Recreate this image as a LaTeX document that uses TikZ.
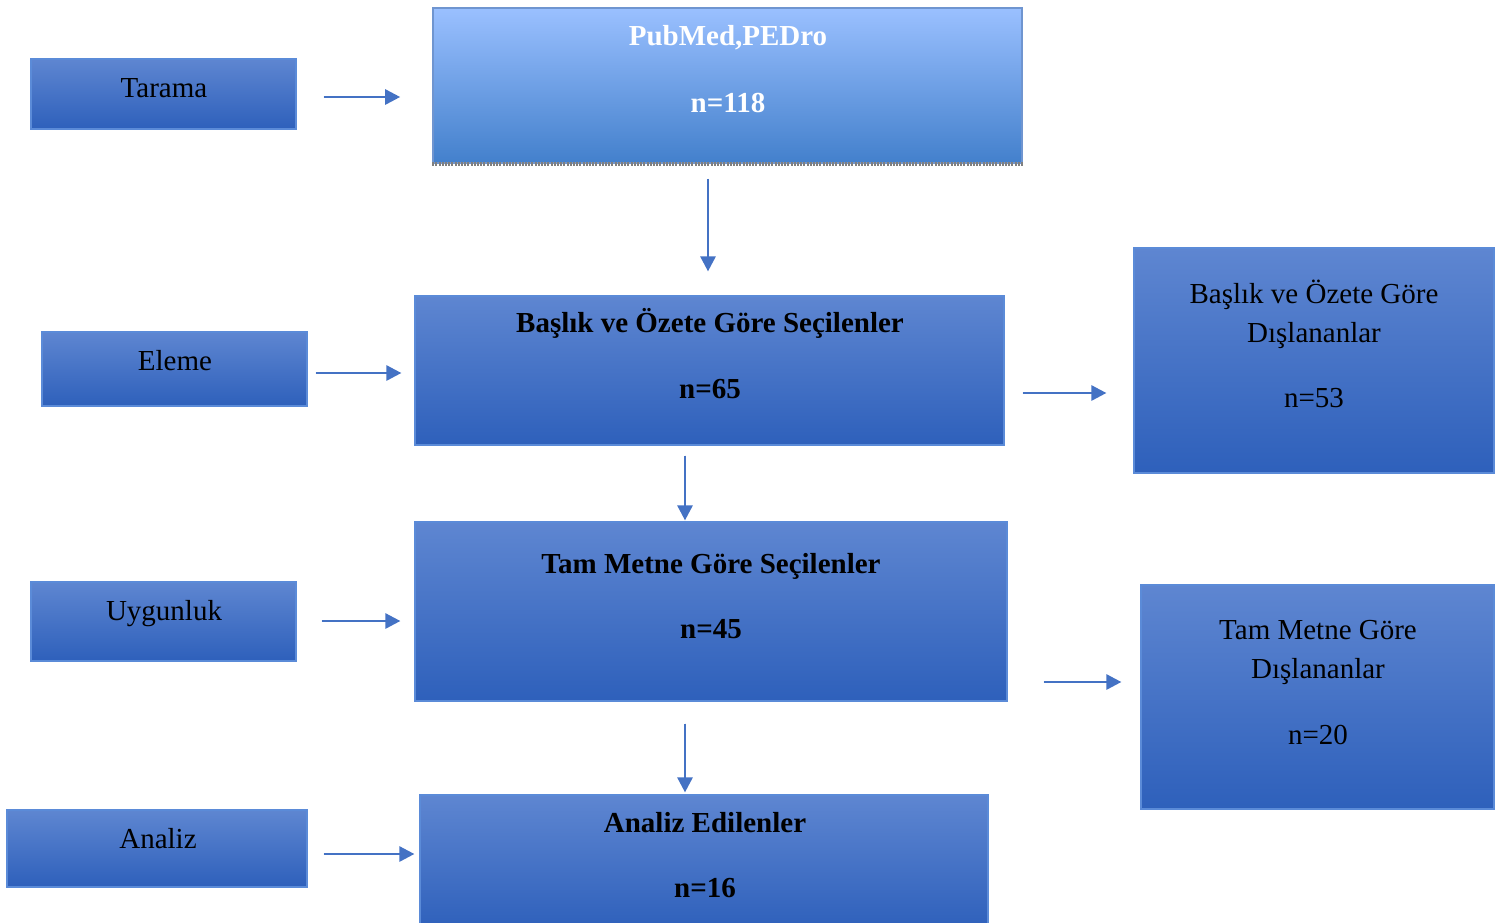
\documentclass[tikz,border=0pt]{standalone}
\usepackage{fontspec}
\setmainfont{Liberation Serif}
\usetikzlibrary{arrows.meta,fit}
\definecolor{arrowblue}{HTML}{4472C4}
\definecolor{boxtop}{HTML}{5E86D1}
\definecolor{boxbot}{HTML}{2E60BB}
\definecolor{boxedge}{HTML}{5B8BD8}
\definecolor{headtop}{HTML}{9AC0FF}
\definecolor{headbot}{HTML}{4380CC}
\definecolor{headedge}{HTML}{6F95D0}
\begin{document}
\begin{tikzpicture}[x=0.5pt,y=-0.5pt,
  box/.style={draw=boxedge, line width=0.6pt, top color=boxtop, bottom color=boxbot, inner sep=0pt, rectangle},
  headbox/.style={draw=headedge, line width=0.8pt, top color=headtop, bottom color=headbot, inner sep=0pt, rectangle},
  lbl/.style={font=\fontsize{14.5}{17}\selectfont, anchor=base, inner sep=0pt, text=black},
  blbl/.style={lbl, font=\fontsize{14.5}{17}\selectfont\bfseries},
  arr/.style={draw=arrowblue, line width=1.35pt, -{Triangle[length=7.5pt,width=7.5pt]}, fill=arrowblue}
]
\useasboundingbox (0,0) rectangle (1500,922);
% row / column reference coordinates
\coordinate (r1) at (0,97);
\coordinate (r2) at (0,373);
\coordinate (r3) at (0,393);
\coordinate (r4) at (0,621);
\coordinate (r5) at (0,682);
\coordinate (r6) at (0,854);
\coordinate (c1) at (708,0);
\coordinate (c2) at (685,0);

% side boxes
\node[box, fit={(31,59) (296,129)}] (tarama) {};
\node[box, fit={(42,332) (307,406)}] (eleme) {};
\node[box, fit={(31,582) (296,661)}] (uygun) {};
\node[box, fit={(7,810) (307,887)}] (analiz) {};
\node[lbl] (tTarama) at (164,97) {Tarama};
\node[lbl] (tEleme) at (175,370) {Eleme};
\node[lbl] (tUygun) at (164,620) {Uygunluk};
\node[lbl] (tAnaliz) at (158,848) {Analiz};

% main boxes
\node[headbox, fit={(433,8) (1022,163)}] (top) {};
\draw[gray, line width=2pt, dash pattern=on 1pt off 0.6pt] (top.south west) -- (top.south east);
\node[blbl, text=white] (tTop1) at (728,45) {PubMed,PEDro};
\node[blbl, text=white] (tTop2) at (728,112) {n=118};

\node[box, fit={(415,296) (1004,445)}] (main2) {};
\node[blbl] (tM21) at (710,332) {Başlık ve Özete Göre Seçilenler};
\node[blbl] (tM22) at (710,398) {n=65};

\node[box, fit={(415,522) (1007,701)}] (main3) {};
\node[blbl] (tM31) at (711,573) {Tam Metne Göre Seçilenler};
\node[blbl] (tM32) at (711,638) {n=45};

\node[box, fit={(420,795) (988,930)}] (main4) {};
\node[blbl] (tM41) at (705,832) {Analiz Edilenler};
\node[blbl] (tM42) at (705,897) {n=16};

% right boxes
\node[box, fit={(1134,248) (1494,473)}] (right1) {};
\node[lbl] (tR11) at (1314,303) {Başlık ve Özete Göre};
\node[lbl] (tR12) at (1314,342) {Dışlananlar};
\node[lbl] (tR13) at (1314,407) {n=53};

\node[box, fit={(1141,585) (1494,809)}] (right2) {};
\node[lbl] (tR21) at (1318,639) {Tam Metne Göre};
\node[lbl] (tR22) at (1318,678) {Dışlananlar};
\node[lbl] (tR23) at (1318,744) {n=20};

% arrows
\draw[arr, shorten <=13.5pt, shorten >=16pt] (tarama.east |- r1) -- (top.west |- r1);
\draw[arr, shorten <=4pt, shorten >=6.5pt] (eleme.east |- r2) -- (main2.west |- r2);
\draw[arr, shorten <=9pt, shorten >=13.5pt] (main2.east |- r3) -- (right1.west |- r3);
\draw[arr, shorten <=12.5pt, shorten >=7pt] (uygun.east |- r4) -- (main3.west |- r4);
\draw[arr, shorten <=18pt, shorten >=9.5pt] (main3.east |- r5) -- (right2.west |- r5);
\draw[arr, shorten <=8pt, shorten >=2.5pt] (analiz.east |- r6) -- (main4.west |- r6);
\draw[arr, shorten <=7.5pt, shorten >=12pt] (top.south -| c1) -- (main2.north -| c1);
\draw[arr, shorten <=5pt, shorten >=0.5pt] (main2.south -| c2) -- (main3.north -| c2);
\draw[arr, shorten <=11pt, shorten >=1pt] (main3.south -| c2) -- (main4.north -| c2);
\end{tikzpicture}
\end{document}
